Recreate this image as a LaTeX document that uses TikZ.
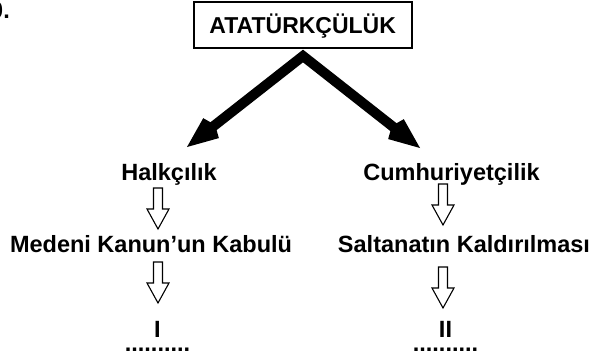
\documentclass[tikz,border=0pt]{standalone}
\usepackage{fontspec}
\setmainfont{Liberation Sans}
\usetikzlibrary{arrows.meta,calc}
\begin{document}
\begin{tikzpicture}[x=1pt,y=-1pt,
  lbl/.style={font=\fontsize{23.5}{14}\selectfont\bfseries, inner sep=0pt, anchor=base, align=center},
  topbox/.style={draw, line width=2pt, minimum width=218pt, minimum height=46.5pt,
    inner sep=0pt, text height=18pt, text depth=1.5pt,
    font=\fontsize{23}{27}\selectfont\bfseries},
  bigarrow/.style={line width=10pt, line join=miter,
    {Straight Barb[angle=45:21pt]}-{Straight Barb[angle=45:21pt]}},
  hollowdown/.style={draw, line width=1.1pt, line join=miter, to path={
    let \p1=(\tikztostart), \p2=(\tikztotarget) in
    (\x1-4.5pt,\y1) -- (\x1+4.5pt,\y1) -- (\x1+4.5pt,\y2+20pt) -- (\x1+11pt,\y2+20pt)
    -- (\x2,\y2) -- (\x1-11pt,\y2+20pt) -- (\x1-4.5pt,\y2+20pt) -- cycle}}]
\useasboundingbox (0,0) rectangle (589,361);

\node[lbl, anchor=base east] (num) at (10,19) {0.};

\node[topbox] (top) at (302.7,25.25) {ATATÜRKÇÜLÜK};

\coordinate (apex) at (303,56);
\coordinate (tl) at (187,147);
\coordinate (tr) at (420,148);
\draw[bigarrow] (tl) -- (apex) -- (tr);

\node[lbl] (h) at (169,180) {Halkçılık};
\node[lbl] (c) at (451.5,180) {Cumhuriyetçilik};
\node[lbl] (m) at (151,252) {Medeni Kanun’un Kabulü};
\node[lbl] (s) at (464,252) {Saltanatın Kaldırılması};
\node[lbl, anchor=north] (i1) at (157.5,321) {I\\..........};
\node[lbl, anchor=north] (i2) at (445.5,321) {II\\..........};

\coordinate (a1s) at (158,188);
\coordinate (a1e) at (158,229);
\coordinate (a2s) at (158,262);
\coordinate (a2e) at (158,303);
\coordinate (b1s) at (443,184);
\coordinate (b1e) at (443,225);
\coordinate (b2s) at (443,267);
\coordinate (b2e) at (443,308);
\draw[hollowdown] (a1s) to (a1e);
\draw[hollowdown] (a2s) to (a2e);
\draw[hollowdown] (b1s) to (b1e);
\draw[hollowdown] (b2s) to (b2e);
\end{tikzpicture}
\end{document}
